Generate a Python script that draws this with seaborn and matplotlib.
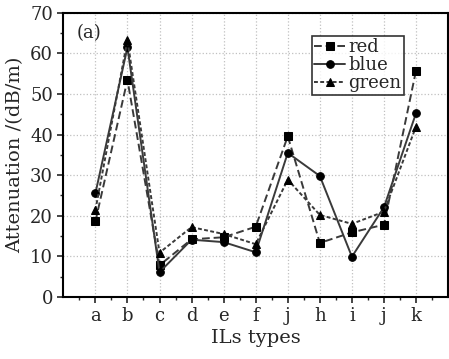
import numpy as np
import pandas as pd
import matplotlib.pyplot as plt
import seaborn as sns

# data
il_types = ['a', 'b', 'c', 'd', 'e', 'f', 'j', 'h', 'i', 'j', 'k']
red = [18.6, 53.5, 7.8, 14.2, 14.7, 17.3, 39.6, 13.3, 15.9, 17.8, 55.8]
blue = [25.5, 61.5, 6.1, 14.1, 13.5, 11.0, 35.5, 29.8, 9.9, 22.1, 45.3]
green = [21.4, 63.3, 10.9, 17.2, 15.5, 13.0, 28.9, 20.2, 18.0, 21.0, 42.0]

x = np.arange(1, len(il_types) + 1)

sns.set_style("ticks")
plt.rcParams['font.family'] = ['DejaVu Serif']
plt.rcParams['mathtext.fontset'] = 'dejavuserif'

fig = plt.figure(figsize=(4.49, 3.59), dpi=100)
ax = fig.add_axes([0.141, 0.173, 0.857, 0.791])

line_col = '#3a3a3a'
styles = [
    ('red', red, 's', (0, (4, 2))),
    ('blue', blue, 'o', '-'),
    ('green', green, '^', (0, (2, 1.2))),
]
for name, vals, mk, ls in styles:
    df = pd.DataFrame({'x': x, 'y': vals})
    sns.lineplot(data=df, x='x', y='y', ax=ax, color=line_col, linestyle=ls,
                 linewidth=1.4, marker=mk, markersize=5.5,
                 markerfacecolor='black', markeredgecolor='black', label=name)

ax.set_xlim(0, 12)
ax.set_ylim(0, 70)
ax.set_xticks(x)
ax.set_xticklabels(il_types)
ax.set_xticks(np.arange(0.5, 12, 1), minor=True)
ax.set_yticks(np.arange(0, 71, 10))
ax.set_yticks(np.arange(5, 70, 10), minor=True)
ax.tick_params(axis='both', which='major', labelsize=13, length=4, width=1.2, direction='out')
ax.tick_params(axis='both', which='minor', length=2.5, width=1.0, direction='out')
ax.grid(True, which='major', color='#c0c0c0', linestyle=':', linewidth=0.9)

for s in ax.spines.values():
    s.set_linewidth(1.5)
    s.set_color('black')

ax.set_xlabel('ILs types', fontsize=14, labelpad=3)
ax.set_ylabel('Attenuation /(dB/m)', fontsize=14, labelpad=4)
ax.text(0.035, 0.93, '(a)', transform=ax.transAxes, fontsize=13, va='center', ha='left')

leg = ax.legend(loc='upper left', bbox_to_anchor=(0.645, 0.92), fontsize=13,
                frameon=True, fancybox=False, edgecolor='black', handlelength=1.7,
                handletextpad=0.2, borderpad=0.15, labelspacing=0.0, borderaxespad=0)
leg.get_frame().set_linewidth(1.2)

fig.savefig('out.png', dpi=100)
